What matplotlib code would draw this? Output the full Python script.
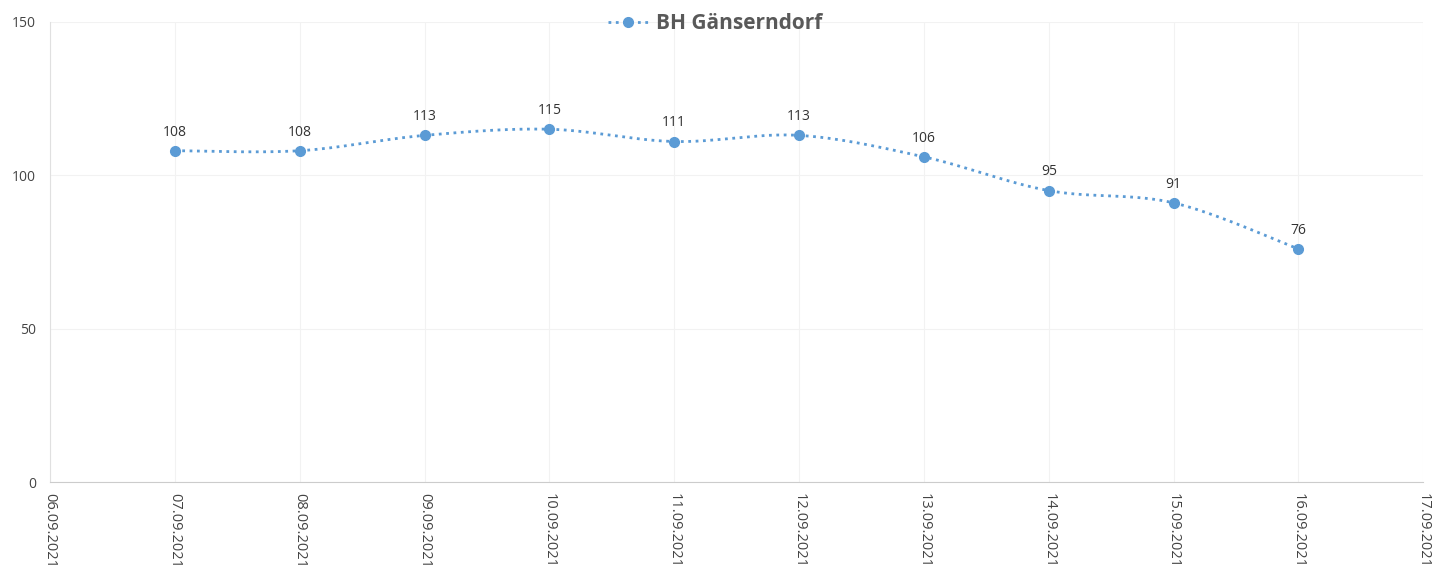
import numpy as np
import matplotlib.pyplot as plt

dates = ['06.09.2021', '07.09.2021', '08.09.2021', '09.09.2021', '10.09.2021', '11.09.2021',
         '12.09.2021', '13.09.2021', '14.09.2021', '15.09.2021', '16.09.2021', '17.09.2021']
values = [108, 108, 113, 115, 111, 113, 106, 95, 91, 76]
series_name = 'BH Gänserndorf'

plt.rcParams['font.family'] = ['Open Sans', 'DejaVu Sans']
blue = '#5b9bd5'

x = np.arange(1, len(values) + 1)
y = np.array(values, dtype=float)


# smoothed line like Excel (Catmull-Rom)
def smooth(px, py, n=30):
    P = np.column_stack([px, py])
    P = np.vstack([P[0], P, P[-1]])
    out = []
    for i in range(1, len(P) - 2):
        p0, p1, p2, p3 = P[i - 1], P[i], P[i + 1], P[i + 2]
        t = np.linspace(0, 1, n)[:, None]
        pt = 0.5 * ((2 * p1) + (-p0 + p2) * t + (2 * p0 - 5 * p1 + 4 * p2 - p3) * t ** 2
                    + (-p0 + 3 * p1 - 3 * p2 + p3) * t ** 3)
        out.append(pt)
    out = np.vstack(out)
    return out[:, 0], out[:, 1]


sx, sy = smooth(x, y)

fig = plt.figure(figsize=(14.38, 5.74), dpi=100)
ax = fig.add_axes([0.0348, 0.160, 0.955, 0.802])

ax.plot(sx, sy, color=blue, linestyle=':', linewidth=2)
ax.plot(x, y, 'o', color=blue, markersize=7)
for xi, yi in zip(x, values):
    ax.annotate(str(yi), (xi, yi), xytext=(0, 8), textcoords='offset points',
                ha='center', va='bottom', fontsize=10, color='#333333')

ax.set_xlim(0, len(dates) - 1)
ax.set_ylim(0, 150)
ax.set_yticks([0, 50, 100, 150])
ax.set_xticks(range(len(dates)))
ax.set_xticklabels(dates, rotation=270, fontsize=10.5, color='#444444')
ax.tick_params(axis='y', labelsize=10, labelcolor='#444444', length=0, pad=10)
ax.tick_params(axis='x', length=0, pad=8)
ax.grid(True, color='#f2f2f2', linewidth=0.8)
for s in ['top', 'right']:
    ax.spines[s].set_visible(False)
ax.spines['left'].set_color('#e0e0e0')
ax.spines['bottom'].set_color('#cccccc')

fig.legend([plt.Line2D([], [], color=blue, linestyle=':', linewidth=2, marker='o', markersize=7)],
           [series_name], loc='upper center', bbox_to_anchor=(0.497, 1.01), frameon=False,
           prop={'size': 15, 'weight': 'bold'}, labelcolor='#595959', handlelength=2.0,
           handletextpad=0.3)

fig.savefig('out.png', dpi=100)
